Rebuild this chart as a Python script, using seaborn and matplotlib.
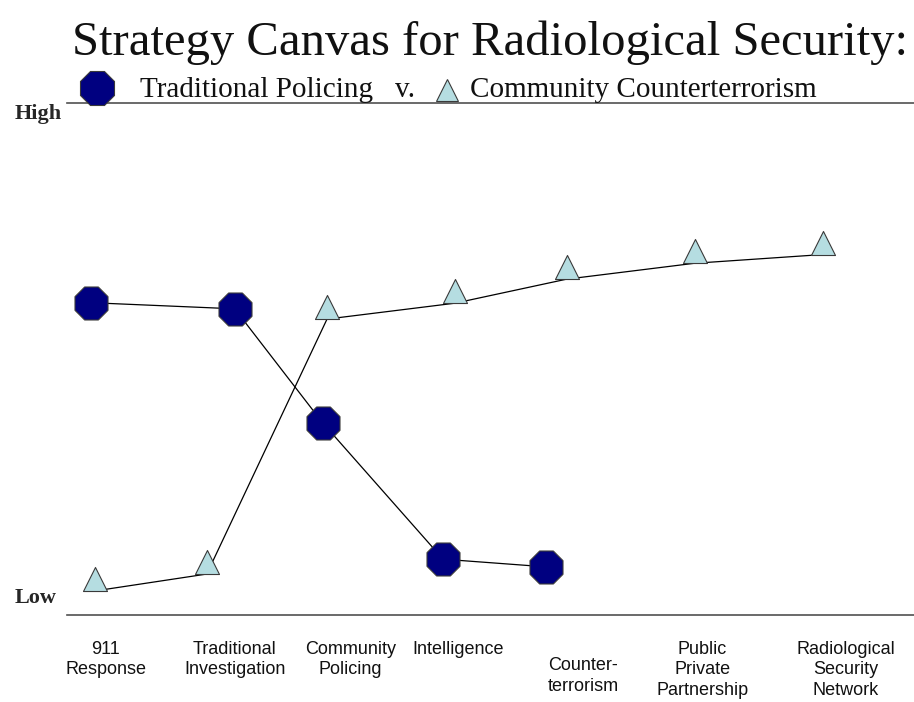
import pandas as pd
import numpy as np
import matplotlib
matplotlib.use("Agg")
from matplotlib import pyplot as plt
from matplotlib.lines import Line2D
from matplotlib.transforms import ScaledTranslation
import seaborn as sns

# Chart texts
title = "Strategy Canvas for Radiological Security:"
series_names = ["Traditional Policing", "Community Counterterrorism"]
axis_high = "High"
axis_low = "Low"

# Factors along the canvas (x position 0-100 along the baseline)
factors = ["911\nResponse", "Traditional\nInvestigation", "Community\nPolicing", "Intelligence",
           "Counter-\nterrorism", "Public\nPrivate\nPartnership", "Radiological\nSecurity\nNetwork"]
factor_pos = [4.6, 19.8, 33.5, 46.2, 60.9, 75.0, 91.9]

# Offering level (0 = low, 100 = high)
policing_x = [2.8, 19.8, 30.2, 44.4, 56.6]
policing_y = [61.0, 59.8, 37.5, 10.9, 9.4]

counter_x = [3.3, 16.5, 30.7, 45.8, 59.0, 74.1, 89.2]
counter_y = [4.7, 8.0, 57.8, 60.9, 65.6, 68.7, 70.4]

df = pd.concat([
    pd.DataFrame({"x": policing_x, "y": policing_y, "series": series_names[0]}),
    pd.DataFrame({"x": counter_x, "y": counter_y, "series": series_names[1]}),
], ignore_index=True)

sns.set_theme(style="white")
plt.rcParams["font.family"] = ["Liberation Serif", "DejaVu Serif"]

navy = "#000080"
aqua = "#b5dde1"
edge = "#3a3a3a"

fig = plt.figure(figsize=(9.14, 7.02), dpi=100)
ax = fig.add_axes([67 / 914, 87 / 702, 847 / 914, 512 / 702])

sns.lineplot(data=df, x="x", y="y", hue="series", palette={series_names[0]: "black", series_names[1]: "black"},
             sort=False, estimator=None, legend=False, linewidth=0.9, ax=ax, zorder=2)

oct_size = 25.7
tri_size = 17.3
ax.scatter(policing_x, policing_y, marker="8", s=oct_size ** 2, c=navy, edgecolors=edge,
           linewidths=0.8, zorder=3)
# triangles sit on the line with their base
lift = ScaledTranslation(0, tri_size / 2 / 72, fig.dpi_scale_trans)
ax.scatter(counter_x, counter_y, marker="^", s=tri_size ** 2, c=aqua, edgecolors=edge,
           linewidths=0.8, zorder=3, transform=ax.transData + lift)

ax.set_xlim(0, 100)
ax.set_ylim(0, 100)
ax.set_xticks([])
ax.set_yticks([])
ax.set_xlabel("")
ax.set_ylabel("")
for side in ["left", "right"]:
    ax.spines[side].set_visible(False)
for side in ["top", "bottom"]:
    ax.spines[side].set_color("#505050")
    ax.spines[side].set_linewidth(1.2)

# factor labels under the baseline
xt = ax.get_xaxis_transform()
for name, pos in zip(factors, factor_pos):
    ty = -0.082 if name.startswith("Counter") else -0.05
    ax.text(pos, ty, name, transform=xt, ha="center", va="top", ma="center",
            fontsize=13, family=["Liberation Sans", "DejaVu Sans"], color="#111111", linespacing=1.3)

# High / Low
fig.text(15 / 914, 1 - 119 / 702, axis_high, fontsize=16, fontweight="bold", va="baseline", ha="left")
fig.text(15 / 914, 1 - 603 / 702, axis_low, fontsize=16, fontweight="bold", va="baseline", ha="left")

# title and key
fig.text(490 / 914, 1 - 55 / 702, title, fontsize=35, ha="center", va="baseline", color="#111111")
fig.add_artist(Line2D([97 / 914], [1 - 88 / 702], transform=fig.transFigure, marker="8",
                      markersize=26.5, markerfacecolor=navy, markeredgecolor=edge, markeredgewidth=0.8,
                      linestyle="none"))
fig.add_artist(Line2D([447 / 914], [1 - 90 / 702], transform=fig.transFigure, marker="^",
                      markersize=16, markerfacecolor=aqua, markeredgecolor=edge, markeredgewidth=0.8,
                      linestyle="none"))
fig.text(140 / 914, 1 - 97 / 702, series_names[0], fontsize=21, va="baseline", ha="left", color="#111111")
fig.text(395 / 914, 1 - 97 / 702, "v.", fontsize=21, va="baseline", ha="left", color="#111111")
fig.text(470 / 914, 1 - 97 / 702, series_names[1], fontsize=21, va="baseline", ha="left", color="#111111")

plt.savefig("out.png", dpi=100)
